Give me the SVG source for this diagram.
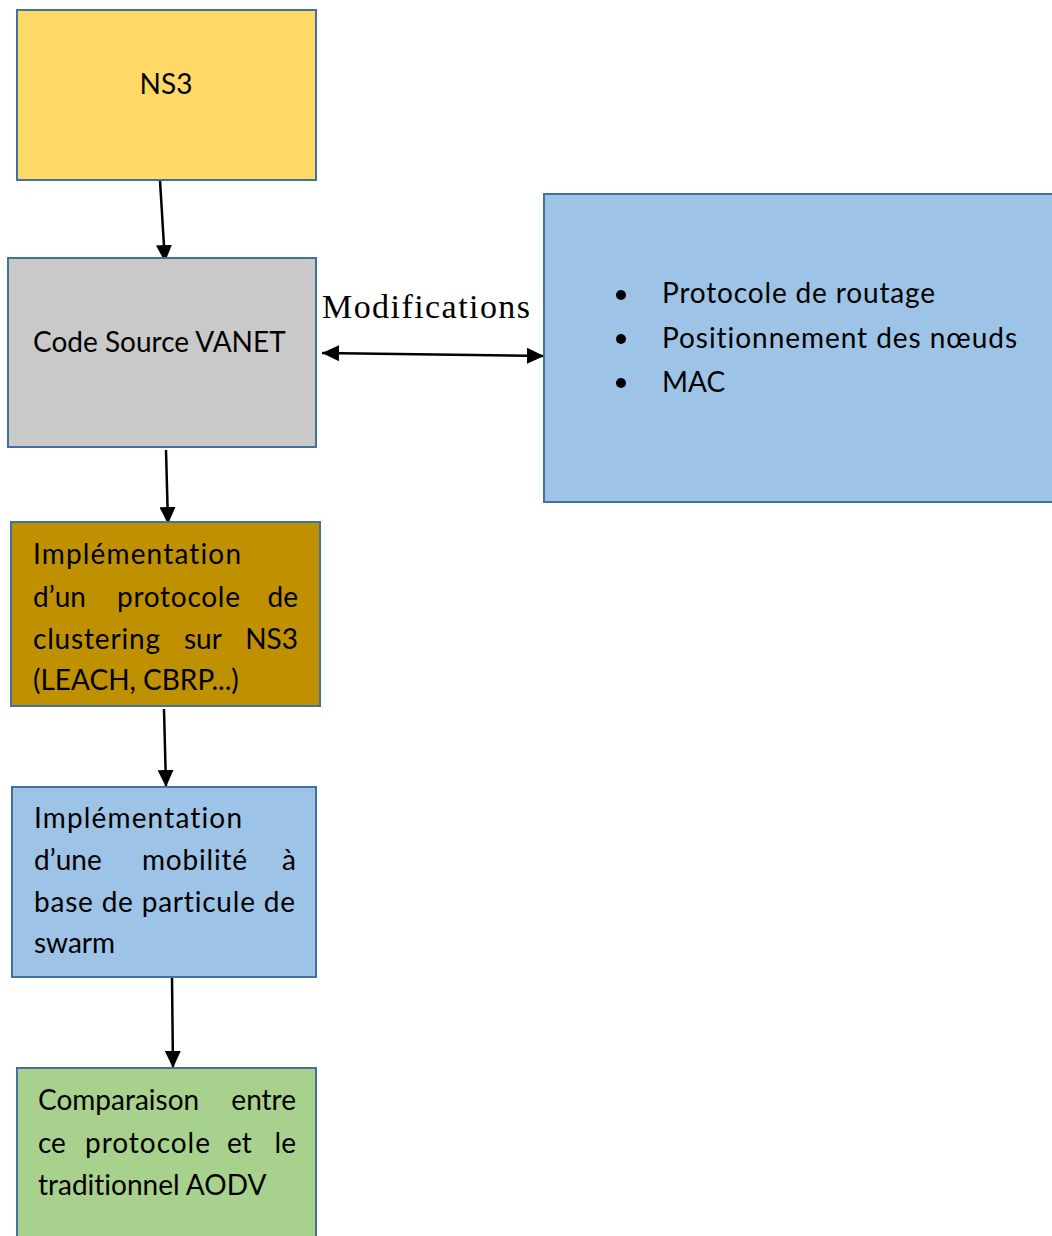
<svg xmlns="http://www.w3.org/2000/svg" width="1052" height="1236" viewBox="0 0 1052 1236">
  <style>
    .box { stroke: #41719C; stroke-width: 2; }
    .t { font-family: "Lato", "Noto Sans", sans-serif; font-size: 28px; fill: #000; font-variant-ligatures: none; }
    .serif { font-family: "Liberation Serif", serif; font-size: 34px; fill: #000; }
    .edge { stroke: #000; stroke-width: 2.5; fill: none; }
  </style>
  <defs>
    <marker id="arrow" markerUnits="userSpaceOnUse" markerWidth="17" markerHeight="16" refX="17" refY="8" orient="auto-start-reverse">
      <path d="M0,0 L17,8 L0,16 z" fill="#000"/>
    </marker>
  </defs>

  <rect width="1052" height="1236" fill="#fff"/>

  <!-- connectors -->
  <g id="connectors">
    <line class="edge" x1="160" y1="181" x2="165" y2="262" marker-end="url(#arrow)"/>
    <line class="edge" x1="166" y1="450" x2="168" y2="524" marker-end="url(#arrow)"/>
    <line class="edge" x1="164" y1="709" x2="166" y2="787" marker-end="url(#arrow)"/>
    <line class="edge" x1="172" y1="978" x2="173" y2="1068" marker-end="url(#arrow)"/>
    <line class="edge" x1="322" y1="353" x2="544" y2="356" marker-start="url(#arrow)" marker-end="url(#arrow)"/>
    <text class="serif" x="322" y="318" textLength="208">Modifications</text>
  </g>

  <!-- NS3 -->
  <g id="ns3">
    <rect class="box" x="17" y="10" width="299" height="170" fill="#FFD966"/>
    <text class="t" x="166" y="94" text-anchor="middle">NS3</text>
  </g>

  <!-- Code Source VANET -->
  <g id="code-source">
    <rect class="box" x="8" y="258" width="308" height="189" fill="#C9C9C9"/>
    <text class="t" x="33" y="352">Code Source VANET</text>
  </g>

  <!-- modification targets -->
  <g id="modifications">
    <rect class="box" x="544" y="194" width="510" height="308" fill="#9DC3E6"/>
    <circle cx="621" cy="295" r="5"/>
    <circle cx="621" cy="339" r="5"/>
    <circle cx="621" cy="383" r="5"/>
    <text class="t" x="662" y="303" textLength="273">Protocole de routage</text>
    <text class="t" x="662" y="348" textLength="355">Positionnement des nœuds</text>
    <text class="t" x="662" y="392">MAC</text>
  </g>

  <!-- clustering implementation -->
  <g id="clustering">
    <rect class="box" x="11" y="522" width="309" height="184" fill="#BF9000"/>
    <text class="t" x="33" y="564" textLength="208">Implémentation</text>
    <text class="t" x="33" y="607">d’un</text>
    <text class="t" x="117" y="607" textLength="123">protocole</text>
    <text class="t" x="298" y="607" text-anchor="end">de</text>
    <text class="t" x="33" y="649" textLength="127">clustering</text>
    <text class="t" x="184" y="649">sur</text>
    <text class="t" x="298" y="649" text-anchor="end">NS3</text>
    <text class="t" x="33" y="690">(LEACH, CBRP...)</text>
  </g>

  <!-- mobility implementation -->
  <g id="mobility">
    <rect class="box" x="12" y="787" width="304" height="190" fill="#9DC3E6"/>
    <text class="t" x="34" y="828" textLength="208">Implémentation</text>
    <text class="t" x="34" y="870">d’une</text>
    <text class="t" x="142" y="870" textLength="105">mobilité</text>
    <text class="t" x="296" y="870" text-anchor="end">à</text>
    <text class="t" x="34" y="912" textLength="261">base de particule de</text>
    <text class="t" x="34" y="953">swarm</text>
  </g>

  <!-- comparison -->
  <g id="comparison">
    <rect class="box" x="17" y="1068" width="299" height="172" fill="#A9D18E"/>
    <text class="t" x="38" y="1110">Comparaison</text>
    <text class="t" x="296" y="1110" text-anchor="end">entre</text>
    <text class="t" x="38" y="1153">ce</text>
    <text class="t" x="85" y="1153" textLength="125">protocole</text>
    <text class="t" x="227" y="1153">et</text>
    <text class="t" x="296" y="1153" text-anchor="end">le</text>
    <text class="t" x="38" y="1195">traditionnel AODV</text>
  </g>
</svg>
